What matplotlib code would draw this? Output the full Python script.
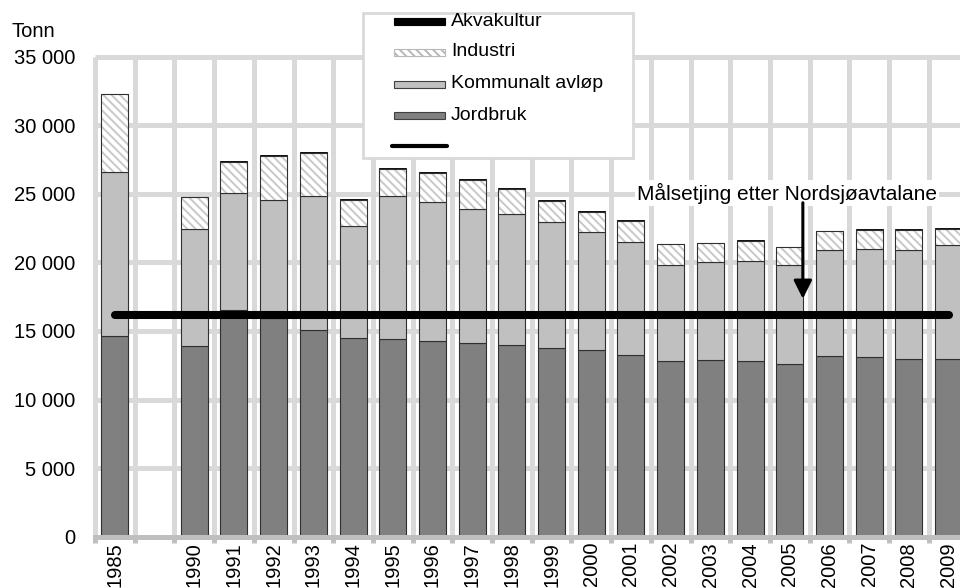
import numpy as np
import matplotlib
matplotlib.use('Agg')
import matplotlib.pyplot as plt
from matplotlib.patches import Rectangle

plt.rcParams['font.family'] = ['Liberation Sans', 'DejaVu Sans']
plt.rcParams['hatch.linewidth'] = 1.4

# categories on the x axis (empty slot between 1985 and 1990)
categories = ['1985', ''] + [str(y) for y in range(1990, 2010)]
years = ['1985'] + [str(y) for y in range(1990, 2010)]

# tonnes
jordbruk = [14660, 13930, 16550, 15950, 15070, 14470, 14420, 14250, 14100, 13960,
            13780, 13610, 13220, 12780, 12860, 12780, 12610, 13150, 13080, 12980, 12980]
kommunalt = [11940, 8510, 8510, 8600, 9740, 8190, 10420, 10180, 9800, 9570,
             9190, 8580, 8290, 7030, 7140, 7350, 7170, 7780, 7900, 7920, 8260]
industri = [5700, 2320, 2230, 3180, 3140, 1860, 1940, 2060, 2080, 1850,
            1500, 1480, 1530, 1510, 1390, 1460, 1340, 1330, 1360, 1490, 1170]
akvakultur = [0, 30, 100, 70, 70, 100, 100, 100, 70, 30,
              100, 100, 30, 30, 30, 30, 30, 30, 70, 30, 70]
target = 16150  # halvparten av 1985-nivået

yticks = [0, 5000, 10000, 15000, 20000, 25000, 30000, 35000]

x = np.array([categories.index(y) for y in years])
j = np.array(jordbruk, dtype=float)
k = np.array(kommunalt, dtype=float)
ind = np.array(industri, dtype=float)
akva = np.array(akvakultur, dtype=float)

fig = plt.figure(figsize=(9.6, 5.88), dpi=100)
ax = fig.add_axes([95 / 960, 51.3 / 588, 873.4 / 960, 480 / 588])
ax.set_xlim(-0.5, len(categories) - 0.5)
ax.set_ylim(0, 35000)

# grid (thick light grey, not clipped at the frame)
grid_kw = dict(color='#d9d9d9', lw=3.6, zorder=0.5, clip_on=False, capstyle='butt')
ax.hlines(yticks[1:], -0.5, len(categories) - 0.5, **grid_kw)
ax.vlines(np.arange(-0.5, len(categories), 1), 0, 35000, **grid_kw)

w = 0.68
edge = '#303030'
ax.bar(x, j, w, color='#808080', edgecolor=edge, lw=0.8, zorder=2)
ax.bar(x, k, w, bottom=j, color='#c0c0c0', edgecolor=edge, lw=0.8, zorder=2)
ax.bar(x, ind, w, bottom=j + k, color='white', edgecolor='#c8c8c8', hatch='\\\\\\\\',
       lw=0, zorder=2)
ax.bar(x, ind, w, bottom=j + k, fill=False, edgecolor=edge, lw=0.8, zorder=2.1)
ax.bar(x, akva, w, bottom=j + k + ind, color='black', edgecolor='black', lw=0.6, zorder=2)

ax.plot(x, np.full(len(x), target), color='black', lw=5.8, solid_capstyle='round',
        zorder=3)

ax.text(16.94, 25060, 'Målsetjing etter Nordsjøavtalane', ha='center', va='center',
        fontsize=15, bbox=dict(facecolor='white', edgecolor='none', pad=1.5), zorder=4)
ax.annotate('', xy=(17.33, 17350), xytext=(17.33, 24350),
            arrowprops=dict(arrowstyle='-|>,head_length=0.5,head_width=0.25',
                            color='black', lw=2.2, mutation_scale=22,
                            shrinkA=0, shrinkB=0),
            zorder=4)

# axes styling
for s in ['top', 'right', 'left']:
    ax.spines[s].set_visible(False)
ax.spines['bottom'].set_color('#bfbfbf')
ax.spines['bottom'].set_linewidth(3.6)
ax.spines['bottom'].set_zorder(3)

ax.set_yticks(yticks)
ax.set_yticklabels([f'{v:,}'.replace(',', ' ') for v in yticks], fontsize=14.5)
ax.tick_params(axis='y', length=0, pad=14.4)
ax.set_xticks(np.arange(len(categories)))
ax.set_xticklabels(categories, rotation=90, fontsize=14.5, va='top')
ax.tick_params(axis='x', which='major', length=0, pad=3.8)
ax.set_xticks(np.arange(-0.5, len(categories), 1), minor=True)
ax.tick_params(axis='x', which='minor', length=4, width=3.6, color='#bfbfbf',
               direction='out')

fig.text(12 / 960, 1 - 37 / 588, 'Tonn', fontsize=14.5, va='baseline')

# legend box, drawn in figure pixels
lg = fig.add_axes([0, 0, 1, 1], zorder=5)
lg.set_xlim(0, 960)
lg.set_ylim(588, 0)
lg.axis('off')
lg.add_patch(Rectangle((363, 13), 270, 145, facecolor='white', edgecolor='#d9d9d9', lw=2))
rows = [21, 52, 84, 115, 146]
entries = [('Akvakultur', dict(facecolor='black', edgecolor='black')),
           ('Industri', dict(facecolor='white', edgecolor='#b8b8b8', hatch='\\\\\\\\')),
           ('Kommunalt avløp', dict(facecolor='#c0c0c0', edgecolor='#404040')),
           ('Jordbruk', dict(facecolor='#808080', edgecolor='#404040'))]
for (label, style), yy in zip(entries, rows):
    lg.add_patch(Rectangle((394, yy - 3.5), 51, 7, lw=0.8, **style))
    lg.text(451, yy, label, fontsize=14, va='center')
lg.plot([392, 447], [rows[4], rows[4]], color='black', lw=3, solid_capstyle='round')

fig.savefig('out.png', dpi=100)
